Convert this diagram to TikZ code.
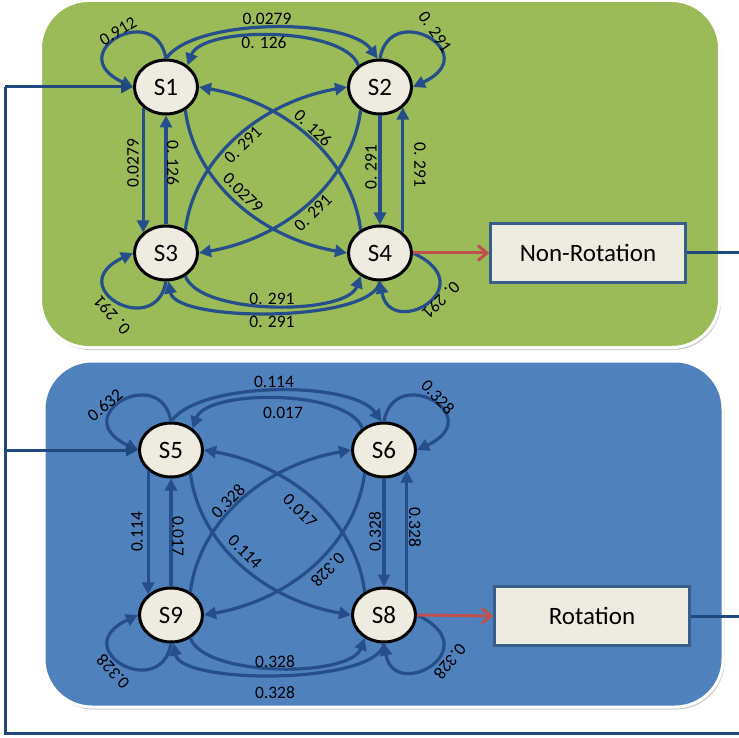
\documentclass[tikz,border=0pt]{standalone}
\usepackage{fontspec}
\setmainfont{Carlito}
\usetikzlibrary{shapes.geometric,arrows.meta,shadows}

\definecolor{panelgreen}{HTML}{9BBB59}
\definecolor{panelblue}{HTML}{4F81BD}
\definecolor{chainblue}{HTML}{254E8A}
\definecolor{linkblue}{HTML}{1F497D}
\definecolor{boxline}{HTML}{385D8A}
\definecolor{statefill}{HTML}{EEECE1}
\definecolor{exitred}{HTML}{C0504D}

% transitions of one four-state chain: #1 top-left, #2 top-right, #3 bottom-left, #4 bottom-right
\newcommand\chainarcs[4]{%
  % self loops
  \draw[trans] (#1.north) .. controls +(100:60pt) and +(155:80pt) .. (#1.west);
  \draw[trans] (#2.north) .. controls +(80:60pt) and +(25:80pt) .. (#2.east);
  \draw[trans] (#3.south) .. controls +(-100:60pt) and +(-155:80pt) .. (#3.west);
  \draw[trans] (#4.east) .. controls +(-25:80pt) and +(-80:60pt) .. (#4.south);
  % upper pair
  \draw[trans] (#1.north) .. controls +(55:50pt) and +(125:50pt) .. (#2.95);
  \draw[trans] (#2.135) .. controls +(110:42pt) and +(70:42pt) .. (#1.45);
  % lower pair
  \draw[trans] (#3.-50) .. controls +(-70:42pt) and +(-110:42pt) .. (#4.230);
  \draw[trans] (#4.south) .. controls +(-100:42pt) and +(-80:42pt) .. (#3.-85);
  % vertical pairs
  \draw[trans] (#1.222) -- (#3.138);
  \draw[trans] (#3.north) -- (#1.south);
  \draw[trans] (#2.south) -- (#4.north);
  \draw[trans] (#4.42) -- (#2.318);
  % crossing diagonals
  \draw[trans] (#1.-50) .. controls +(-83:70pt) and +(170:90pt) .. (#4.west);
  \draw[trans] (#4.130) .. controls +(97:70pt) and +(-10:90pt) .. (#1.east);
  \draw[trans] (#2.230) .. controls +(-97:70pt) and +(10:90pt) .. (#3.east);
  \draw[trans] (#3.50) .. controls +(83:70pt) and +(190:90pt) .. (#2.west);
}

\tikzset{
  panel/.style={rounded corners=48pt, draw=white, line width=3pt,
    drop shadow={shadow xshift=1.5pt, shadow yshift=-2.5pt, fill=black!45, opacity=.45}},
  statenode/.style={ellipse, draw=black, line width=3pt, fill=statefill,
    minimum width=63pt, minimum height=54pt, inner sep=0pt,
    font=\fontsize{25}{30}\selectfont},
  outbox/.style={rectangle, draw=boxline, line width=2.5pt, fill=statefill,
    minimum width=195pt, minimum height=59pt, inner sep=0pt,
    font=\fontsize{25}{30}\selectfont},
  trans/.style={draw=chainblue, line width=3.2pt,
    -{Triangle[length=12pt,width=12pt]}},
  link/.style={draw=linkblue, line width=3pt, line join=miter},
  exit/.style={draw=exitred, line width=3pt,
    -{Straight Barb[length=9pt,width=15pt,line width=3pt]}},
  lbl/.style={font=\fontsize{17.5}{20}\selectfont, inner sep=0pt, text=black},
}

\begin{document}
\begin{tikzpicture}[x=1pt,y=-1pt]
  \useasboundingbox (0,0) rectangle (739,738);
  \fill[white] (0,0) rectangle (739,738);

  % panels
  \path[panel, fill=panelgreen] (40.5,0.5) rectangle (719.5,347.5);
  \path[panel, fill=panelblue] (44,361) rectangle (723,707);

  % states
  \node[statenode] (S1) at (166,87) {S1};
  \node[statenode] (S2) at (380,87) {S2};
  \node[statenode] (S3) at (166,253) {S3};
  \node[statenode] (S4) at (380,253) {S4};
  \node[statenode] (S5) at (171,450) {S5};
  \node[statenode] (S6) at (384,450) {S6};
  \node[statenode] (S9) at (171,615) {S9};
  \node[statenode] (S8) at (384,615) {S8};

  \node[outbox] (NR) at (588,253) {Non-Rotation};
  \node[outbox] (RO) at (592,616) {Rotation};

  \chainarcs{S1}{S2}{S3}{S4}
  \chainarcs{S5}{S6}{S9}{S8}

  % exits into the result boxes
  \draw[exit] (S4.east) -- (NR.west);
  \draw[exit] (S8.east) -- (RO.west);

  % feedback rail
  \coordinate (railtop) at (5,87);
  \coordinate (railmid) at (5,450);
  \coordinate (railbot) at (5,733.5);
  \coordinate (railend) at (739,733.5);
  \coordinate (nrend) at (739,253);
  \coordinate (roend) at (739,616);
  \draw[link] (railtop) -- (railbot) -- (railend);
  \draw[link, -{Triangle[length=12pt,width=12pt]}] (railtop) -- (S1.west);
  \draw[link, -{Triangle[length=12pt,width=12pt]}] (railmid) -- (S5.west);
  \draw[link] (NR.east) -- (nrend);
  \draw[link] (RO.east) -- (roend);

  % transition probabilities, upper chain
  \node[lbl, rotate=31] (a11) at (118,31) {0.912};
  \node[lbl] (a12) at (267,19) {0.0279};
  \node[lbl] (a21) at (264,43) {0. 126};
  \node[lbl, rotate=-56] (a22) at (435,32) {0. 291};
  \node[lbl, rotate=90] (a13) at (133,163) {0.0279};
  \node[lbl, rotate=-90] (a31) at (173,163) {0. 126};
  \node[lbl, rotate=45] (a32) at (243,145) {0. 291};
  \node[lbl, rotate=-45] (a41) at (313,128) {0. 126};
  \node[lbl, rotate=-45] (a14) at (243,193) {0.0279};
  \node[lbl, rotate=45] (a23) at (313,213) {0. 291};
  \node[lbl, rotate=90] (a24) at (371,167) {0. 291};
  \node[lbl, rotate=-90] (a42) at (420,165) {0. 291};
  \node[lbl] (a34) at (272,299) {0. 291};
  \node[lbl] (a43) at (272,322) {0. 291};
  \node[lbl, rotate=132] (a33) at (112,315) {0. 291};
  \node[lbl, rotate=-135] (a44) at (441,300) {0. 291};

  % transition probabilities, lower chain
  \node[lbl, rotate=40] (b55) at (105,405) {0.632};
  \node[lbl] (b56) at (274,382) {0.114};
  \node[lbl] (b65) at (283,413) {0.017};
  \node[lbl, rotate=-47] (b66) at (438,397) {0.328};
  \node[lbl, rotate=90] (b59) at (137,532) {0.114};
  \node[lbl, rotate=-90] (b95) at (178,536) {0.017};
  \node[lbl, rotate=45] (b96) at (228,501) {0.328};
  \node[lbl, rotate=-45] (b85) at (300,511) {0.017};
  \node[lbl, rotate=-45] (b58) at (245,552) {0.114};
  \node[lbl, rotate=225] (b69) at (328,570) {0.328};
  \node[lbl, rotate=90] (b68) at (375,532) {0.328};
  \node[lbl, rotate=-90] (b86) at (415,527) {0.328};
  \node[lbl] (b98) at (275,662) {0.328};
  \node[lbl] (b89) at (275,693) {0.328};
  \node[lbl, rotate=132] (b99) at (113,672) {0.328};
  \node[lbl, rotate=-130] (b88) at (450,662) {0.328};
\end{tikzpicture}
\end{document}
